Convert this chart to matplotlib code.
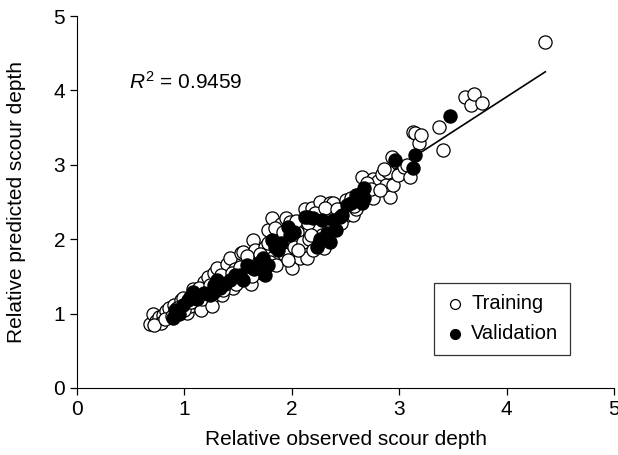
import numpy as np
import matplotlib
matplotlib.use("Agg")
import matplotlib.pyplot as plt

plt.rcParams['font.family'] = ['Liberation Sans', 'DejaVu Sans']
plt.rcParams['mathtext.fontset'] = 'custom'
plt.rcParams['mathtext.it'] = 'Liberation Sans:italic'
plt.rcParams['mathtext.rm'] = 'Liberation Sans'

# training points (observed, predicted)
train_x = [0.68, 0.71, 0.74, 0.76, 0.80, 0.83, 0.78, 0.86, 0.90, 0.94, 0.97, 0.99, 1.02, 1.05,
           1.08, 1.10, 1.12, 1.15, 1.18, 1.20, 1.22, 1.25, 1.28, 1.30, 1.32, 1.35, 1.38, 1.40,
           1.42, 1.45, 1.47, 1.50, 1.53, 1.55, 1.57, 1.60, 1.62, 1.64, 1.66, 1.68, 1.72, 1.75,
           1.78, 1.80, 1.82, 1.85, 1.88, 1.90, 1.93, 1.95, 1.98, 2.00, 2.02, 2.05, 2.08, 2.10,
           2.12, 2.14, 2.16, 2.19, 2.20, 2.24, 2.26, 2.28, 2.30, 2.33, 2.36, 2.38, 2.40, 2.44,
           2.47, 2.50, 2.51, 2.53, 2.57, 2.60, 2.62, 2.65, 2.68, 2.72, 2.76, 2.76, 2.80, 2.84,
           2.88, 2.90, 2.91, 2.93, 2.94, 2.99, 3.04, 3.07, 3.10, 3.13, 3.15, 3.18, 3.20, 3.37,
           3.41, 3.61, 3.67, 3.70, 3.77, 4.36,
           0.72, 0.82, 0.88, 0.93, 1.00, 1.06, 1.14, 1.16, 1.24, 1.26, 1.34, 1.36, 1.44, 1.48,
           1.52, 1.58, 1.63, 1.70, 1.74, 1.78, 1.84, 1.86, 1.92, 1.96, 2.04, 2.06, 2.15, 2.18,
           2.22, 2.25, 2.31, 2.35, 2.42, 2.46, 2.55, 2.58, 2.70, 2.74, 2.82, 2.86]
train_y = [0.86, 1.00, 0.90, 0.95, 0.98, 1.03, 0.88, 1.08, 1.12, 1.02, 1.18, 1.21, 1.01, 1.10,
           1.33, 1.15, 1.25, 1.05, 1.42, 1.30, 1.49, 1.20, 1.55, 1.61, 1.40, 1.25, 1.50, 1.66,
           1.75, 1.35, 1.60, 1.45, 1.82, 1.83, 1.55, 1.70, 1.40, 1.99, 1.85, 1.62, 1.55, 1.90,
           2.12, 1.70, 2.28, 1.65, 2.05, 2.20, 1.80, 2.28, 2.23, 1.61, 1.90, 2.10, 1.75, 1.96,
           2.40, 1.75, 2.00, 2.42, 1.85, 2.15, 2.50, 2.05, 1.88, 2.30, 2.48, 2.49, 2.20, 2.25,
           2.38, 2.53, 2.33, 2.45, 2.32, 2.40, 2.60, 2.84, 2.70, 2.62, 2.81, 2.55, 2.78, 2.88,
           2.73, 2.90, 2.57, 3.10, 2.73, 2.86, 2.97, 3.00, 2.84, 3.44, 3.43, 3.29, 3.40, 3.51,
           3.20, 3.91, 3.80, 3.95, 3.83, 4.65,
           0.84, 0.93, 0.97, 1.08, 1.05, 1.15, 1.35, 1.20, 1.38, 1.10, 1.52, 1.32, 1.55, 1.40,
           1.62, 1.78, 1.50, 1.80, 1.62, 1.95, 2.15, 1.95, 2.10, 1.72, 2.25, 1.85, 2.22, 2.05,
           2.35, 1.95, 2.42, 2.15, 2.40, 2.22, 2.55, 2.45, 2.75, 2.68, 2.66, 2.95]

# validation points
valid_x = [0.89, 0.91, 0.95, 0.99, 1.03, 1.05, 1.08, 1.12, 1.18, 1.24, 1.28, 1.30, 1.33, 1.27,
           1.38, 1.42, 1.47, 1.52, 1.55, 1.58, 1.62, 1.65, 1.70, 1.73, 1.75, 1.78, 1.82, 1.84,
           1.87, 1.90, 1.96, 1.98, 2.02, 2.12, 2.15, 2.20, 2.23, 2.26, 2.28, 2.33, 2.36, 2.38,
           2.41, 2.45, 2.47, 2.51, 2.55, 2.60, 2.65, 2.67, 2.67, 2.96, 3.13, 3.15, 3.47]
valid_y = [0.94, 1.05, 1.00, 1.12, 1.18, 1.22, 1.29, 1.20, 1.28, 1.25, 1.38, 1.45, 1.34, 1.28,
           1.40, 1.45, 1.52, 1.52, 1.45, 1.65, 1.62, 1.60, 1.70, 1.75, 1.52, 1.65, 1.99, 1.90,
           1.85, 1.95, 2.16, 2.05, 2.10, 2.30, 2.30, 2.28, 1.90, 2.00, 2.26, 2.08, 1.96, 2.26,
           2.12, 2.30, 2.33, 2.46, 2.48, 2.60, 2.49, 2.69, 2.55, 3.06, 2.96, 3.13, 3.66]

# fitted line end points
fit_x = [0.70, 4.36]
fit_y = [0.83, 4.25]

fig = plt.figure(figsize=(6.18, 4.55), dpi=100)
ax = fig.add_axes([0.1246, 0.1473, 0.869, 0.8175])

ax.plot(fit_x, fit_y, color='black', lw=1.2, zorder=1)
ax.scatter(train_x, train_y, s=90, facecolors='white', edgecolors='black', linewidths=0.9,
           label='Training', zorder=2)
ax.scatter(valid_x, valid_y, s=90, facecolors='black', edgecolors='black', linewidths=0.9,
           label='Validation', zorder=3)

ax.text(0.48, 4.11, r'$R^2$ = 0.9459', fontsize=15, va='center')

ax.set_xlim(0, 5)
ax.set_ylim(0, 5)
ax.set_xticks([0, 1, 2, 3, 4, 5])
ax.set_yticks([0, 1, 2, 3, 4, 5])
ax.tick_params(direction='out', length=5, labelsize=15, width=0.9)
ax.spines['top'].set_visible(False)
ax.spines['right'].set_visible(False)
ax.set_xlabel('Relative observed scour depth', fontsize=15, labelpad=8)
ax.set_ylabel('Relative predicted scour depth', fontsize=15, labelpad=20)

leg = ax.legend(loc='lower left', bbox_to_anchor=(0.665, 0.09), fontsize=14.5,
                frameon=True, fancybox=False, edgecolor='black', handletextpad=0.3,
                handlelength=1.0, borderpad=0.55, labelspacing=0.55, markerscale=0.75,
                borderaxespad=0)
leg.get_frame().set_linewidth(0.9)

fig.savefig('out.png', dpi=100)
